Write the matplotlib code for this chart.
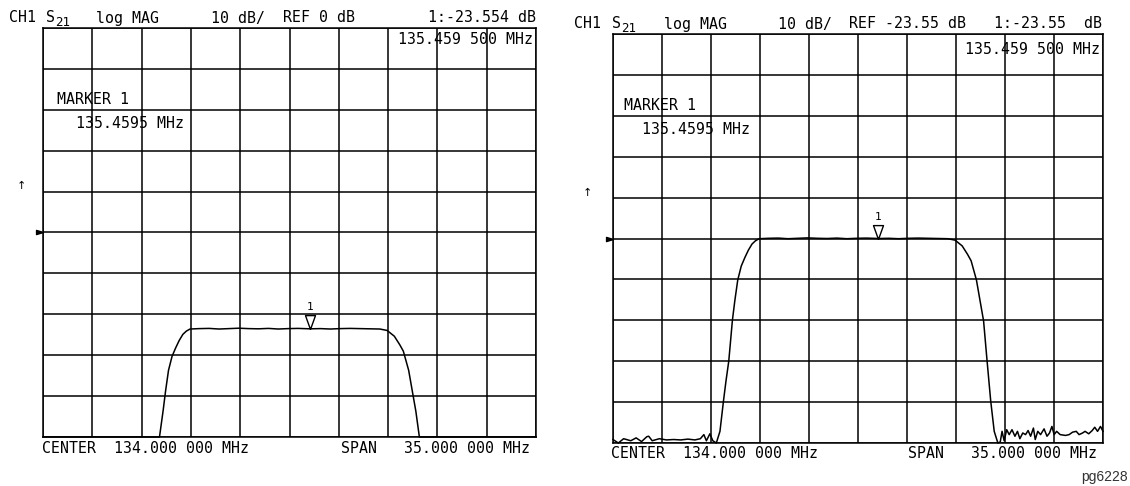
import numpy as np
import matplotlib
matplotlib.use("Agg")
import matplotlib.pyplot as plt

# S21 trace of the filter (MHz, dB)
freq_mhz = [116.50, 116.88, 117.26, 117.77, 118.15, 118.54, 118.92, 119.05, 119.30, 119.81,
            120.32, 120.83, 121.34, 121.85, 122.35, 122.74, 122.99, 123.17, 123.42, 123.63,
            123.88, 124.14, 124.39, 124.57, 124.77, 125.03, 125.20, 125.41, 125.66, 125.92,
            126.17, 126.43, 126.68, 126.94, 127.60, 128.30, 129.00, 129.70, 130.40, 131.10,
            131.80, 132.50, 133.20, 133.90, 134.60, 135.46, 136.20, 136.90, 137.60, 138.30,
            139.00, 139.70, 140.42, 140.93, 141.44, 141.82, 142.08, 142.46, 142.72, 142.97,
            143.22, 143.48, 143.73, 143.99, 144.16, 144.29, 144.44, 144.62, 144.80, 145.00,
            145.21, 145.39, 145.56, 145.77, 145.97, 146.15, 146.33, 146.53, 146.66, 146.84,
            147.04, 147.29, 147.50, 147.68, 147.85, 148.01, 148.19, 148.44, 148.82, 149.08,
            149.33, 149.59, 149.79, 150.04, 150.22, 150.48, 150.73, 150.91, 151.11, 151.32,
            151.50]
s21_db = [-72.7, -73.6, -72.5, -73.0, -72.3, -73.2, -72.0, -71.9, -73.0, -72.5,
          -72.8, -72.7, -72.8, -72.6, -72.8, -72.5, -71.5, -73.0, -71.3, -73.0,
          -73.6, -70.7, -63.3, -58.4, -53.5, -43.5, -38.8, -33.7, -30.3, -28.2,
          -26.4, -24.9, -24.1, -23.6, -23.5, -23.45, -23.6, -23.5, -23.4, -23.5,
          -23.55, -23.45, -23.6, -23.5, -23.45, -23.55, -23.5, -23.6, -23.5, -23.45,
          -23.5, -23.55, -23.6, -23.95, -25.35, -27.4, -29.0, -33.7, -38.8, -43.7,
          -53.5, -63.3, -70.7, -73.6, -73.3, -70.7, -73.0, -70.3, -71.5, -70.3,
          -71.9, -70.7, -72.5, -71.1, -71.5, -70.5, -71.9, -69.9, -72.7, -70.7,
          -71.5, -70.1, -71.9, -71.1, -69.5, -71.5, -70.7, -71.5, -71.7, -71.5,
          -70.9, -70.7, -71.5, -71.1, -70.7, -71.3, -70.5, -69.7, -70.7, -69.5,
          -70.7]

CENTER_MHZ, SPAN_MHZ = 134.0, 35.0
DB_PER_DIV = 10
MARKER_MHZ = 135.4595
ref_levels = [0.0, -23.55]
marker_db = [-23.554, -23.55]
ref_labels = ["REF 0 dB", "REF -23.55 dB"]
marker_labels = ["1:-23.554 dB", "1:-23.55  dB"]

W, H = 1130, 486
MONO = ["DejaVu Sans Mono", "DejaVu Sans"]
FS = 10.7

fig = plt.figure(figsize=(W / 100, H / 100), dpi=100)


def T(x, y, s, **kw):
    kw.setdefault("family", MONO); kw.setdefault("fontsize", FS); kw.setdefault("va", "center")
    fig.text(x / W, 1 - y / H, s, **kw)


tri_down = [(0, 0), (-0.36, 1), (0.36, 1), (0, 0)]
tri_right = [(0, 0), (-1, 0.3), (-1, -0.3), (0, 0)]


def panel(px, ref, mk_db):
    x0, y0, x1, y1 = px
    ax = fig.add_axes([x0 / W, 1 - y1 / H, (x1 - x0) / W, (y1 - y0) / H])
    f0, f1 = CENTER_MHZ - SPAN_MHZ / 2, CENTER_MHZ + SPAN_MHZ / 2
    lo, hi = ref - 5 * DB_PER_DIV, ref + 5 * DB_PER_DIV
    ax.set_xlim(f0, f1); ax.set_ylim(lo, hi)
    ax.set_xticks(np.linspace(f0, f1, 11)); ax.set_yticks(np.linspace(lo, hi, 11))
    ax.grid(True, color="k", lw=1.1)
    ax.tick_params(length=0, labelbottom=False, labelleft=False)
    for s in ax.spines.values():
        s.set_linewidth(1.1)
    # instrument clips the trace to the screen, so draw the clipped values unclipped
    ax.plot(freq_mhz, np.clip(s21_db, lo, hi), color="k", lw=1.1, clip_on=False, zorder=4)
    ax.plot([MARKER_MHZ], [mk_db], marker=tri_down, ms=20, mfc="white", mec="k", mew=1, zorder=5)
    ax.annotate("1", (MARKER_MHZ, mk_db), xytext=(0, 22), textcoords="offset pixels",
                ha="center", va="center", fontsize=8, family=MONO)
    ax.plot([f0], [ref], marker=tri_right, ms=10, color="k", clip_on=False)
    return ax


panels = [(43, 28, 536, 437), (613, 34, 1103, 443)]
for i, px in enumerate(panels):
    panel(px, ref_levels[i], marker_db[i])

# left panel annotations
T(9, 18, "CH1"); T(46, 18, "S"); T(55, 22, "21", fontsize=9)
T(96, 18, "log MAG"); T(211, 18, "10 dB/"); T(283, 18, ref_labels[0])
T(536, 18, marker_labels[0], ha="right")
T(533, 40, "135.459 500 MHz", ha="right")
T(57, 100, "MARKER 1"); T(76, 123, "135.4595 MHz")
T(21, 186, "↑", fontsize=8, family=["DejaVu Sans"], ha="center")
T(42, 448, "CENTER  134.000 000 MHz"); T(341, 448, "SPAN   35.000 000 MHz")

# right panel annotations
T(574, 24, "CH1"); T(612, 24, "S"); T(621, 28, "21", fontsize=9)
T(664, 24, "log MAG"); T(778, 24, "10 dB/"); T(849, 24, ref_labels[1])
T(1102, 24, marker_labels[1], ha="right")
T(1100, 49, "135.459 500 MHz", ha="right")
T(624, 106, "MARKER 1"); T(642, 129, "135.4595 MHz")
T(587, 193, "↑", fontsize=8, family=["DejaVu Sans"], ha="center")
T(611, 453, "CENTER  134.000 000 MHz"); T(908, 453, "SPAN   35.000 000 MHz")

T(1128, 477, "pg6228", family=["Liberation Sans"], fontsize=10, color="#333333", ha="right")

fig.savefig("out.png", dpi=100)
